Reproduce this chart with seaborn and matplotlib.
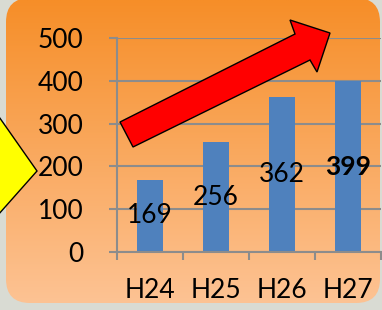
import numpy as np
import pandas as pd
import matplotlib
matplotlib.use("Agg")
import matplotlib.pyplot as plt
import seaborn as sns
from matplotlib.patches import FancyBboxPatch, Polygon

categories = ["H24", "H25", "H26", "H27"]
values = [169, 256, 362, 399]
yticks = [0, 100, 200, 300, 400, 500]

sns.set_theme(style="white")
plt.rcParams["font.family"] = ["Lato", "DejaVu Sans"]

W, H = 382, 310
fig = plt.figure(figsize=(W / 100, H / 100), dpi=100)
fig.patch.set_facecolor("#d9dbd3")

def px(x, y):
    return (x / W, 1 - y / H)

# background panel with vertical gradient
bg = fig.add_axes([0, 0, 1, 1], zorder=0)
bg.set_xlim(0, W)
bg.set_ylim(H, 0)
bg.axis("off")
top = np.array([246, 142, 40]) / 255
bot = np.array([253, 196, 150]) / 255
t = np.linspace(0, 1, 256)[:, None, None]
grad = top * (1 - t) + bot * t
grad = np.repeat(grad, 2, axis=1)
panel = FancyBboxPatch((6, -2), 374, 305, boxstyle="round,pad=0,rounding_size=24",
                       facecolor="none", edgecolor="none", transform=bg.transData)
bg.add_patch(panel)
im = bg.imshow(grad, extent=(0, W, H, 0), aspect="auto", interpolation="bilinear")
im.set_clip_path(panel)

FS = 19

# main chart
ax = fig.add_axes([117 / W, 58 / H, 264 / W, 214 / H], zorder=1)
ax.patch.set_alpha(0)
df = pd.DataFrame({"cat": categories, "val": values})
sns.barplot(data=df, x="cat", y="val", color="#4f81bd", saturation=1, width=0.4,
            edgecolor="none", linewidth=0, ax=ax, zorder=2)
ax.set_ylim(0, 500)
ax.set_xlim(-0.5, 3.5)
ax.set_yticks(yticks)
ax.set_yticklabels([str(v) for v in yticks])
ax.set_xlabel("")
ax.set_ylabel("")
ax.grid(axis="y", color="#8c8c8c", linewidth=1.5, zorder=0)
ax.set_axisbelow(True)
for s in ["top", "right"]:
    ax.spines[s].set_visible(False)
for s in ["left", "bottom"]:
    ax.spines[s].set_color("#8c8c8c")
    ax.spines[s].set_linewidth(1.5)
ax.tick_params(axis="y", direction="out", length=6, width=1.5, color="#8c8c8c",
               labelsize=FS, pad=18, left=True)
ax.tick_params(axis="x", which="major", length=0, labelsize=FS, pad=19)
ax.set_xticks([-0.5, 0.5, 1.5, 2.5, 3.5], minor=True)
ax.tick_params(axis="x", which="minor", direction="out", length=6, width=1.5,
               color="#8c8c8c", bottom=True)
for lab in ax.get_xticklabels() + ax.get_yticklabels():
    lab.set_color("black")

texts = ax.bar_label(ax.containers[0], labels=[str(v) for v in values],
                     label_type="center", fontsize=FS, color="black")
texts[-1].set_fontweight("bold")

# decorations: red arrow and yellow diamond
arrow_pts = [(120, 122), (295, 34), (290, 20), (330, 33), (317, 72), (310, 60), (133, 147)]
fig.add_artist(Polygon([px(*p) for p in arrow_pts], closed=True, facecolor="#ff0000",
                       edgecolor="black", linewidth=1, transform=fig.transFigure, zorder=5))
diamond = [(37, 171), (-10, 104), (-60, 171), (-10, 224)]
fig.add_artist(Polygon([px(*p) for p in diamond], closed=True, facecolor="#ffff00",
                       edgecolor="black", linewidth=1, transform=fig.transFigure, zorder=5))

fig.savefig("out.png", dpi=100, facecolor=fig.get_facecolor())
